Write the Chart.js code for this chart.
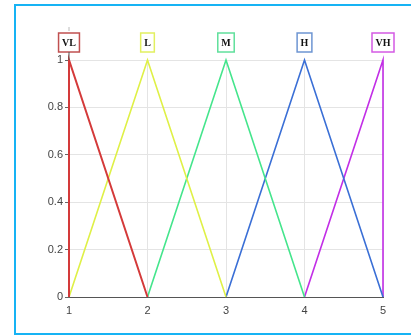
<!DOCTYPE html>
<html>
<head>
<meta charset="utf-8">
<script src="https://cdn.jsdelivr.net/npm/chart.js@4"></script>
<style>
  html, body { margin: 0; padding: 0; background: #fff; overflow: hidden; }
  #wrap { position: relative; width: 411px; height: 335px; overflow: hidden; }
  .edge { position: absolute; background: #17b3f4; pointer-events: none; }
  #edge-top { left: 14px; top: 4px; width: 397px; height: 2px; }
  #edge-left { left: 14px; top: 4px; width: 2px; height: 331px; }
  #edge-bottom { left: 14px; top: 333px; width: 397px; height: 2px; }
  canvas { position: absolute; left: 0; top: 0; }
</style>
</head>
<body>
<div id="wrap">
  <canvas id="chart-mf" width="411" height="335"></canvas>
  <div class="edge" id="edge-top"></div>
  <div class="edge" id="edge-left"></div>
  <div class="edge" id="edge-bottom"></div>
</div>
<script>
// linguistic terms and their triangular membership functions
const termLabels = ["VL", "L", "M", "H", "VH"];
const termPeaks = [1, 2, 3, 4, 5];
const termColors = ["#d43a3a", "#dff046", "#44e58c", "#3a6fd6", "#c22ee6"];
const termBoxColors = ["#c05050", "#e2f060", "#60e09c", "#6d95d2", "#d45ae4"];

const vlX = [1, 1, 2];
const vlY = [0, 1, 0];
const lX = [1, 2, 3];
const lY = [0, 1, 0];
const mX = [2, 3, 4];
const mY = [0, 1, 0];
const hX = [3, 4, 5];
const hY = [0, 1, 0];
const vhX = [4, 5, 5];
const vhY = [0, 1, 0];

const xTicks = [1, 2, 3, 4, 5];
const yTicks = [0, 0.2, 0.4, 0.6, 0.8, 1];

const seriesX = [vlX, lX, mX, hX, vhX];
const seriesY = [vlY, lY, mY, hY, vhY];

const tickFont = { family: "Liberation Sans, Arial, sans-serif", size: 11 };

// boxed term names above each peak
const termBoxes = {
  id: "termBoxes",
  afterDraw(chart) {
    const { ctx, scales } = chart;
    const top = scales.y.getPixelForValue(1);
    ctx.save();
    ctx.font = "bold 10px 'Liberation Serif', 'Times New Roman', serif";
    ctx.textAlign = "center";
    ctx.textBaseline = "middle";
    termLabels.forEach((label, i) => {
      const cx = scales.x.getPixelForValue(termPeaks[i]);
      const cy = top - 17.5;
      const w = ctx.measureText(label).width + 7;
      const h = 19;
      ctx.fillStyle = "#fff";
      ctx.fillRect(cx - w / 2, cy - h / 2, w, h);
      ctx.strokeStyle = termBoxColors[i];
      ctx.lineWidth = 1.5;
      ctx.strokeRect(cx - w / 2, cy - h / 2, w, h);
      ctx.fillStyle = "#111";
      ctx.fillText(label, cx, cy + 0.5);
      if (i === 0) {
        ctx.lineWidth = 1;
        ctx.strokeStyle = "#555";
        ctx.beginPath();
        ctx.moveTo(cx, cy + h / 2);
        ctx.lineTo(cx, top);
        ctx.stroke();
        ctx.strokeStyle = "#bbb";
        ctx.beginPath();
        ctx.moveTo(cx, cy - h / 2 - 6);
        ctx.lineTo(cx, cy - h / 2 - 2);
        ctx.stroke();
      }
    });
    ctx.restore();
  },
};

new Chart(document.getElementById("chart-mf").getContext("2d"), {
  type: "scatter",
  data: {
    datasets: termLabels.map((label, i) => ({
      label,
      data: seriesX[i].map((x, k) => ({ x, y: seriesY[i][k] })),
      showLine: true,
      clip: false,
      borderColor: termColors[i],
      backgroundColor: termColors[i],
      borderWidth: i === 0 ? 2 : 1.6,
      pointRadius: 0,
      tension: 0,
    })),
  },
  options: {
    responsive: false,
    animation: false,
    layout: { padding: { left: 0, right: 28, top: 60, bottom: 0 } },
    plugins: { legend: { display: false }, tooltip: { enabled: false } },
    scales: {
      x: {
        type: "linear",
        min: 1,
        max: 5,
        afterFit: (s) => { s.height = 38; },
        afterBuildTicks: (s) => { s.ticks = xTicks.map((v) => ({ value: v })); },
        grid: { color: "#e4e4e4", drawTicks: false },
        border: { color: "#555", width: 1 },
        ticks: { font: tickFont, color: "#444", padding: 7 },
      },
      y: {
        min: 0,
        max: 1,
        afterFit: (s) => { s.width = 69; },
        afterBuildTicks: (s) => { s.ticks = yTicks.map((v) => ({ value: v })); },
        grid: { color: "#e4e4e4", tickLength: 4, tickColor: "#666" },
        border: { color: "#555", width: 1 },
        ticks: { font: tickFont, color: "#444", padding: 2, callback: (v) => `${v}` },
      },
    },
  },
  plugins: [termBoxes],
});
</script>
</body>
</html>
